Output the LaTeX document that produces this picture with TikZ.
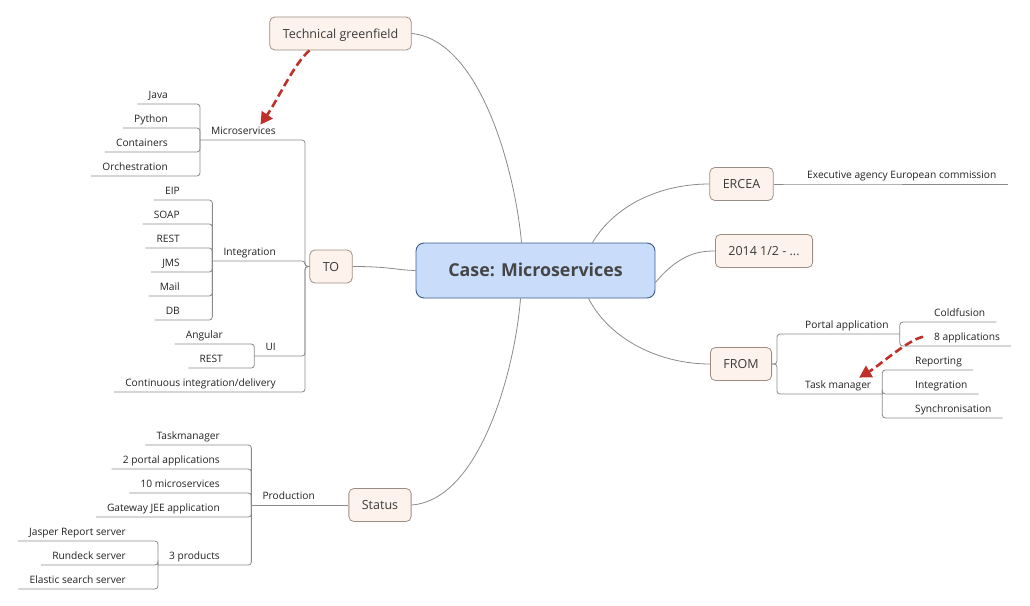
\documentclass[tikz,border=0pt]{standalone}
\usepackage{fontspec}
\setmainfont{Open Sans}
\usetikzlibrary{arrows.meta}
\definecolor{mainfill}{HTML}{C9DCFA}
\definecolor{mainborder}{HTML}{3D5A8E}
\definecolor{maintext}{HTML}{454545}
\definecolor{topicfill}{HTML}{FDF3EC}
\definecolor{topicborder}{HTML}{9C8E85}
\definecolor{topictext}{HTML}{3A3A3A}
\definecolor{leaftext}{HTML}{222222}
\definecolor{linegray}{HTML}{8A8A8A}
\definecolor{relred}{HTML}{C0302B}
\begin{document}
\begin{tikzpicture}[
    x=1pt, y=-1pt,
    central/.style={rectangle, rounded corners=8pt, draw=mainborder, fill=mainfill, line width=0.9pt,
        minimum width=239pt, minimum height=55pt, text height=12.8pt, text depth=0pt,
        font=\fontsize{17.8}{21}\selectfont\bfseries, text=maintext},
    topic/.style={rectangle, rounded corners=5pt, draw=topicborder, fill=topicfill, line width=0.8pt,
        minimum height=33pt, inner xsep=13pt, text height=9pt, text depth=0pt,
        font=\fontsize{12.5}{15}\selectfont, text=topictext},
    leaf/.style={inner xsep=11pt, inner ysep=3pt, text height=7.5pt, text depth=2.5pt,
        font=\fontsize{10.2}{12}\selectfont, text=leaftext},
    branch/.style={draw=linegray, line width=0.8pt, rounded corners=3pt},
    link/.style={draw=linegray, line width=0.8pt},
    relation/.style={draw=relred, line width=2.6pt, dash pattern=on 8pt off 4pt,
        -{Triangle[length=12pt, width=13pt]}}
]
    \useasboundingbox (0,0) rectangle (1030,605);

    % Central topic and main topics
    \node[central] (case) at (535.5,270.5) {Case: Microservices};
    \node[topic] (tg) at (340.5,33.5) {Technical greenfield};
    \node[topic] (totopic) at (331,266.5) {TO};
    \node[topic] (status) at (380,505) {Status};
    \node[topic] (ercea) at (741.5,184) {ERCEA};
    \node[topic] (date) at (764,251) {2014 1/2 - ...};
    \node[topic] (fromtopic) at (741,364) {FROM};
    \draw[link] (tg.east) .. controls (480,40) and (515,170) .. ([xshift=-14pt]case.north);
    \draw[link] (totopic.east) .. controls (390,266.5) and (395,270) .. (case.west);
    \draw[link] (status.east) .. controls (480,500) and (515,370) .. ([xshift=-15pt]case.south);
    \draw[link] ([xshift=57pt]case.north) .. controls (615,205) and (660,184) .. (ercea.west);
    \draw[link] ([yshift=-12pt]case.east) .. controls (680,253) and (700,251) .. (date.west);
    \draw[link] ([xshift=53pt]case.south) .. controls (610,340) and (660,364) .. (fromtopic.west);

    % TO
    \coordinate (tobar) at (305,266.5);
    \node[leaf, anchor=south east] (micro) at (287,140) {Microservices};
    \node[leaf, anchor=south east] (integ) at (287,261) {Integration};
    \node[leaf, anchor=south east] (ui) at (287,356) {UI};
    \node[leaf, anchor=south east] (ci) at (287,392) {Continuous integration/delivery};
    \foreach \n in {micro, integ, ui, ci}
        \draw[branch] (\n.south west) -| (tobar) -- (totopic.west);

    \node[leaf, anchor=south east] (java) at (179,104) {Java};
    \node[leaf, anchor=south east] (python) at (179,128) {Python};
    \node[leaf, anchor=south east] (containers) at (179,152) {Containers};
    \node[leaf, anchor=south east] (orch) at (179,176) {Orchestration};
    \foreach \n in {java, python, containers, orch}
        \draw[branch] (\n.south west) -| (micro.south west);

    \node[leaf, anchor=south east] (eip) at (191,200) {EIP};
    \node[leaf, anchor=south east] (soap) at (191,224) {SOAP};
    \node[leaf, anchor=south east] (rest) at (191,248) {REST};
    \node[leaf, anchor=south east] (jms) at (191,272) {JMS};
    \node[leaf, anchor=south east] (mail) at (191,296) {Mail};
    \node[leaf, anchor=south east] (db) at (191,320) {DB};
    \foreach \n in {eip, soap, rest, jms, mail, db}
        \draw[branch] (\n.south west) -| (integ.south west);

    \node[leaf, anchor=south east] (angular) at (234,344) {Angular};
    \node[leaf, anchor=south east] (uirest) at (234,368) {REST};
    \foreach \n in {angular, uirest}
        \draw[branch] (\n.south west) -| (ui.south west);

    % Status
    \node[leaf, anchor=south east] (prod) at (326,505) {Production};
    \draw[branch] (prod.south west) -- (status.west);
    \node[leaf, anchor=south east] (taskmgr) at (231,445) {Taskmanager};
    \node[leaf, anchor=south east] (portals) at (231,469) {2 portal applications};
    \node[leaf, anchor=south east] (msten) at (231,493) {10 microservices};
    \node[leaf, anchor=south east] (gateway) at (231,517) {Gateway JEE application};
    \node[leaf, anchor=south east] (products) at (231,565) {3 products};
    \foreach \n in {taskmgr, portals, msten, gateway, products}
        \draw[branch] (\n.south west) -| (prod.south west);
    \node[leaf, anchor=south east] (jasper) at (137,541) {Jasper Report server};
    \node[leaf, anchor=south east] (rundeck) at (137,565) {Rundeck server};
    \node[leaf, anchor=south east] (elastic) at (137,589) {Elastic search server};
    \foreach \n in {jasper, rundeck, elastic}
        \draw[branch] (\n.south west) -| (products.south west);

    % ERCEA
    \node[leaf, anchor=south west] (exec) at (796,184) {Executive agency European commission};
    \draw[branch] (ercea.east) -- (exec.south west) -- (exec.south east);

    % FROM
    \coordinate (frombar) at (777,364);
    \node[leaf, anchor=south west] (portal) at (794,334) {Portal application};
    \node[leaf, anchor=south west] (taskman) at (794,394) {Task manager};
    \foreach \n in {portal, taskman}
        \draw[branch] (\n.south east) -| (frombar) -- (fromtopic.east);
    \node[leaf, anchor=south west] (cold) at (923,322) {Coldfusion};
    \node[leaf, anchor=south west] (apps) at (923,346) {8 applications};
    \foreach \n in {cold, apps}
        \draw[branch] (\n.south east) -| (portal.south east);
    \node[leaf, anchor=south west] (reporting) at (904,370) {Reporting};
    \node[leaf, anchor=south west] (integtwo) at (904,394) {Integration};
    \node[leaf, anchor=south west] (sync) at (904,418) {Synchronisation};
    \foreach \n in {reporting, integtwo, sync}
        \draw[branch] (\n.south east) -| (taskman.south east);

    % Relationships
    \draw[relation] ([xshift=-31pt]tg.south) .. controls +(-16,14) and +(18,-26) .. ([xshift=17pt,yshift=-1pt]micro.north);
    \draw[relation] ([yshift=1pt]apps.west) .. controls +(-15,3) and +(20,-12) .. ([xshift=21pt]taskman.north);
\end{tikzpicture}
\end{document}
